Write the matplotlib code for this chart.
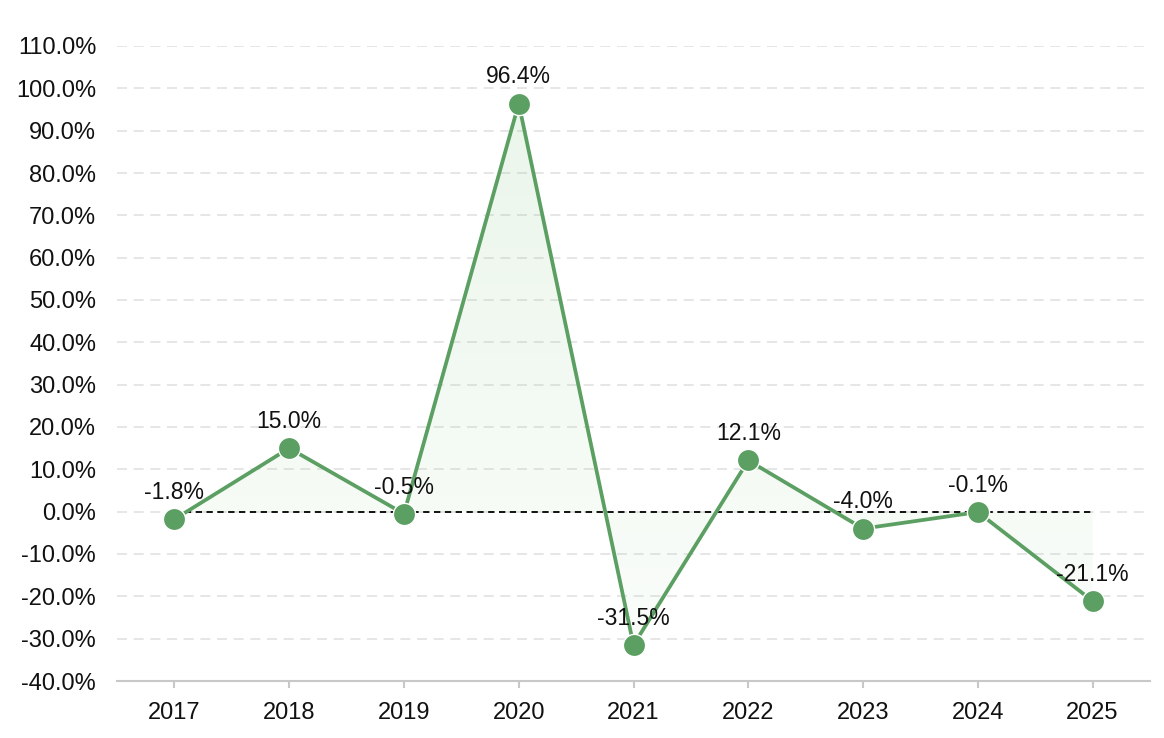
import numpy as np
import matplotlib
matplotlib.use('Agg')
import matplotlib.pyplot as plt
from matplotlib.colors import to_rgba

# data
years = ['2017', '2018', '2019', '2020', '2021', '2022', '2023', '2024', '2025']
growth = [-1.8, 15.0, -0.5, 96.4, -31.5, 12.1, -4.0, -0.1, -21.1]
y_ticks = list(range(-40, 111, 10))

plt.rcParams['font.family'] = ['Liberation Sans', 'DejaVu Sans']

green = '#5c9f62'
fig = plt.figure(figsize=(11.64, 7.38), dpi=100)
ax = fig.add_axes([117 / 1164, 1 - 681 / 738, (1150 - 117) / 1164, (681 - 46) / 738])

x = np.arange(len(years))

# gradient fill between line and zero
poly = ax.fill_between(x, growth, 0, color='none', lw=0)
grad = np.linspace(0.03, 0.17, 256).reshape(-1, 1)
rgba = np.zeros((256, 1, 4))
rgba[..., :3] = to_rgba('#7fc47f')[:3]
rgba[..., 3] = grad[:, 0:1]
img = ax.imshow(rgba, extent=[x[0], x[-1], -40, 110], origin='lower',
                aspect='auto', zorder=1)
img.set_clip_path(poly.get_paths()[0], transform=ax.transData)

ax.plot([x[0], x[-1]], [0, 0], color='black', lw=1.3, ls=(0, (3.5, 2.5)), zorder=2)
ax.plot(x, growth, color=green, lw=2.7, marker='o', markersize=16,
        markerfacecolor=green, markeredgecolor='white', markeredgewidth=1.0, zorder=3)

for xi, v in zip(x, growth):
    ax.annotate(f'{v:.1f}%', (xi, v), xytext=(0, 11), textcoords='offset points',
                ha='center', va='bottom', fontsize=16.5, color='#111111', zorder=4)

ax.set_xlim(-0.5, len(years) - 0.5)
ax.set_ylim(-40, 110)
ax.set_xticks(x)
ax.set_xticklabels(years)
ax.set_yticks(y_ticks)
ax.set_yticklabels([f'{t:.1f}%' for t in y_ticks])

ax.grid(axis='y', color='#e2e2e2', ls=(0, (6, 4)), lw=1.2, zorder=0)
ax.set_axisbelow(True)
for s in ['top', 'right', 'left']:
    ax.spines[s].set_visible(False)
ax.spines['bottom'].set_color('#c8c8c8')
ax.spines['bottom'].set_linewidth(1.5)
ax.tick_params(axis='y', length=0, pad=15, labelsize=17, labelcolor='#111111')
ax.tick_params(axis='x', length=5, width=1.5, color='#c8c8c8', pad=10,
               labelsize=17, labelcolor='#111111')

fig.savefig('out.png', dpi=100)
